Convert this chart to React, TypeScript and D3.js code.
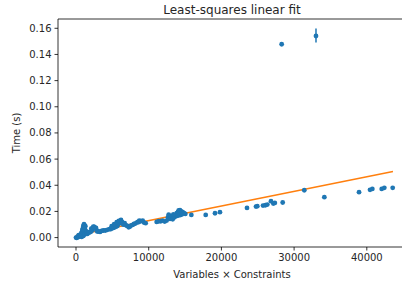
import React from "react";
import * as d3 from "d3";

// Scatter data: Variables × Constraints vs Time (s)
const pointsX: number[] = [
  0, 92, 183, 275, 367, 459, 367, 550, 642, 734, 688, 825, 917, 963, 1009, 1055, 1100, 1192, 1284, 1146, 1238, 1330, 1375,
  779, 1009, 1192, 1467, 1559, 1697, 1834, 2017, 2201, 2293, 2384, 2522, 2659, 2751, 2843, 2934, 3118, 3301, 3530, 3760,
  4035, 4310, 4585, 4769, 4952, 5135, 5319, 5410, 5548, 5685, 5823, 5960, 6052, 6189, 6327, 6510, 6694, 6877, 7061, 7244,
  7428, 7611, 7795, 7978, 8162, 8345, 8529, 8712, 8896, 9171, 9355, 9584, 11097, 11372, 11647, 11922, 12197, 12472, 12656,
  12747, 12931, 13114, 13297, 13573, 13756, 13848, 14031, 14123, 14306, 14490, 14673, 14857, 15040, 14535, 14306, 13985,
  15866, 17840, 19120, 19800, 23520, 24760, 24940, 25720, 26040, 26320, 26820, 27140, 27350, 28430, 31400, 34160, 38930,
  40440, 40760, 42050, 42410, 43560, 28290, 33010,
  900, 1150, 2100, 2450, 4900, 5250, 5600, 5900, 6250, 8600, 13400, 14200, 14750,
];
const pointsY: number[] = [
  0.0, -0.0003, 0.0005, 0.0003, 0.001, 0.0008, 0.0018, 0.0015, 0.0023, 0.0033, 0.0013, 0.0043, 0.0054, 0.0069, 0.0084,
  0.0094, 0.0102, 0.0094, 0.0087, 0.0074, 0.0064, 0.0051, 0.0033, 0.0005, 0.0013, 0.0023, 0.0038, 0.0028, 0.0041,
  0.0038, 0.0043, 0.0054, 0.0074, 0.0084, 0.0082, 0.0069, 0.0074, 0.0054, 0.0046, 0.0048, 0.0043, 0.0051, 0.0054,
  0.0054, 0.0059, 0.0064, 0.0064, 0.0071, 0.0074, 0.0079, 0.0094, 0.0084, 0.0089, 0.0102, 0.011, 0.0125, 0.0135,
  0.0120, 0.0099, 0.011, 0.0094, 0.0089, 0.0079, 0.0084, 0.0094, 0.0097, 0.0105, 0.0107, 0.0115, 0.012, 0.013, 0.0125,
  0.013, 0.0115, 0.011, 0.0120, 0.0125, 0.0125, 0.013, 0.0122, 0.013, 0.0156, 0.0176, 0.0143, 0.0166, 0.014, 0.0156,
  0.0171, 0.0186, 0.0196, 0.0207, 0.0209, 0.0201, 0.0194, 0.0186, 0.0181, 0.0176, 0.0171, 0.0166, 0.0173, 0.0173,
  0.0186, 0.0194, 0.0227, 0.0237, 0.024, 0.0245, 0.0247, 0.0252, 0.0278, 0.026, 0.0265, 0.0268, 0.0362, 0.0309, 0.0347,
  0.0365, 0.0372, 0.0372, 0.038, 0.038, 0.1478, 0.1541,
  0.0062, 0.0078, 0.0068, 0.0079, 0.0087, 0.0102, 0.0118, 0.0128, 0.0112, 0.0118, 0.0178, 0.0192, 0.0185,
];
// Error bar (only visible one)
const errX: number[] = [33010];
const errLow: number[] = [0.1492];
const errHigh: number[] = [0.1598];

// Least-squares fit line endpoints
const fitX: number[] = [0, 43600];
const fitY: number[] = [0.0017, 0.0505];

const xTicks: number[] = [0, 10000, 20000, 30000, 40000];
const yTicks: number[] = [0, 0.02, 0.04, 0.06, 0.08, 0.1, 0.12, 0.14, 0.16];

const W = 402;
const H = 286;
const left = 58;
const right = 402;
const top = 19;
const bottom = 247;

export default function App() {
  const x = d3.scaleLinear().domain([-2476, 44840]).range([left, right]);
  const y = d3.scaleLinear().domain([-0.0072, 0.1671]).range([bottom, top]);
  const fitLine = d3
    .line<number>()
    .x((_, i) => x(fitX[i]))
    .y((d) => y(d));
  const font = "DejaVu Sans, sans-serif";
  const txt = "#262626";
  return (
    <svg
      width={W}
      height={H}
      style={{ position: "absolute", left: 0, top: 0, background: "#fff" }}
      fontFamily={font}
    >
      <defs>
        <clipPath id="plot">
          <rect x={left} y={top} width={right - left} height={bottom - top} />
        </clipPath>
      </defs>
      <g clipPath="url(#plot)">
        <path d={fitLine(fitY) || ""} fill="none" stroke="#ff7f0e" strokeWidth={1.5} />
        {errX.map((ex, i) => (
          <line
            key={"e" + i}
            x1={x(ex)}
            x2={x(ex)}
            y1={y(errLow[i])}
            y2={y(errHigh[i])}
            stroke="#1f77b4"
            strokeWidth={1.5}
          />
        ))}
        {pointsX.map((px, i) => (
          <circle key={i} cx={x(px)} cy={y(pointsY[i])} r={2.4} fill="#1f77b4" />
        ))}
      </g>
      {/* spines */}
      <path
        d={`M${left},${top}H${right + 1}M${left},${top}V${bottom}H${right + 1}`}
        fill="none"
        stroke="#000"
        strokeWidth={0.8}
      />
      {/* x ticks */}
      {xTicks.map((t) => (
        <g key={"x" + t} transform={`translate(${x(t)},${bottom})`}>
          <line y1={0} y2={3.5} stroke="#000" strokeWidth={0.8} />
          <text y={14} textAnchor="middle" fontSize={10} fill={txt}>
            {t}
          </text>
        </g>
      ))}
      {/* y ticks */}
      {yTicks.map((t) => (
        <g key={"y" + t} transform={`translate(${left},${y(t)})`}>
          <line x1={0} x2={-3.5} stroke="#000" strokeWidth={0.8} />
          <text x={-6.5} dy="0.35em" textAnchor="end" fontSize={10} fill={txt}>
            {t.toFixed(2)}
          </text>
        </g>
      ))}
      <text x={(left + right) / 2 + 2} y={14} textAnchor="middle" fontSize={12} fill={txt}>
        Least-squares linear fit
      </text>
      <text x={(left + right) / 2 + 2} y={278} textAnchor="middle" fontSize={10} fill={txt}>
        Variables × Constraints
      </text>
      <text
        transform={`translate(20,${(top + bottom) / 2}) rotate(-90)`}
        textAnchor="middle"
        fontSize={10}
        fill={txt}
      >
        Time (s)
      </text>
    </svg>
  );
}
